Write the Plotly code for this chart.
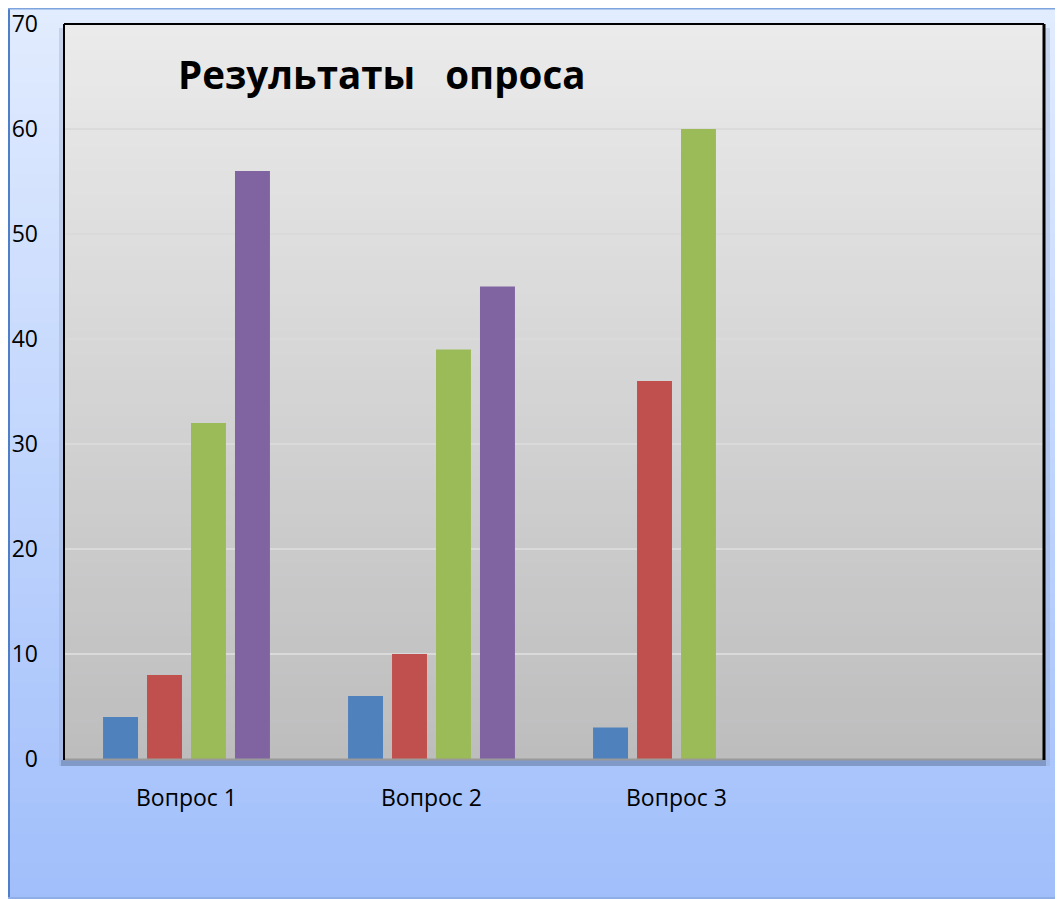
import plotly.graph_objects as go

# ---- data ----
categories = ["Вопрос 1", "Вопрос 2", "Вопрос 3"]
series1 = [4, 6, 3]
series2 = [8, 10, 36]
series3 = [32, 39, 60]
series4 = [56, 45, None]
series_values = [series1, series2, series3, series4]
series_colors = ["#4F81BD", "#C0504D", "#9BBB59", "#8064A2"]
y_ticks = [0, 10, 20, 30, 40, 50, 60, 70]
title_text = "Результаты   опроса"

# ---- geometry (figure pixels; page adds an 8px body margin) ----
W, H = 1063, 899
OX, OY = 8, 8
PL, PR, PT, PB = 56, 1036, 16, 751  # plot area in figure pixels


def px(xs):
    return (xs - OX - PL) / (PR - PL)


def py(ys):
    return (PB - (ys - OY)) / (PB - PT)


def lerp_color(c1, c2, t):
    a = [int(c1[i:i + 2], 16) for i in (1, 3, 5)]
    b = [int(c2[i:i + 2], 16) for i in (1, 3, 5)]
    return "rgb(%d,%d,%d)" % tuple(round(a[k] + (b[k] - a[k]) * t) for k in range(3))


shapes = []
# outer background gradient (screen coords)
N = 60
x0o, x1o, y0o, y1o = 8, 1072, 8, 908
for i in range(N):
    ya = y0o + (y1o - y0o) * i / N
    yb = y0o + (y1o - y0o) * (i + 1) / N + 0.6
    shapes.append(dict(type="rect", xref="paper", yref="paper", layer="below",
                       x0=px(x0o), x1=px(x1o), y0=py(ya), y1=py(yb),
                       line=dict(width=0),
                       fillcolor=lerp_color("#E2ECFE", "#A0BEFB", (i + 0.5) / N)))
# outer frame lines
shapes.append(dict(type="line", xref="paper", yref="paper", layer="below",
                   x0=px(9), x1=px(9), y0=py(8), y1=py(899),
                   line=dict(color="#4F7FC9", width=2)))
shapes.append(dict(type="line", xref="paper", yref="paper", layer="below",
                   x0=px(8), x1=px(1063), y0=py(8.5), y1=py(8.5),
                   line=dict(color="#7FA3DD", width=2)))
shapes.append(dict(type="line", xref="paper", yref="paper", layer="below",
                   x0=px(8), x1=px(1063), y0=py(898), y1=py(898),
                   line=dict(color="#8FADE6", width=2)))
# wall shadows
shapes.append(dict(type="rect", xref="paper", yref="paper", layer="below",
                   x0=px(59), x1=px(64), y0=py(28), y1=py(766),
                   line=dict(width=0), fillcolor="rgba(150,165,195,0.35)"))
shapes.append(dict(type="rect", xref="paper", yref="paper", layer="below",
                   x0=px(1044), x1=px(1050), y0=py(28), y1=py(766),
                   line=dict(width=0), fillcolor="rgba(150,165,200,0.3)"))
# plot area gradient
M = 60
for i in range(M):
    ya = 24 + (759 - 24) * i / M
    yb = min(24 + (759 - 24) * (i + 1) / M + 0.6, 759)
    shapes.append(dict(type="rect", xref="paper", yref="paper", layer="below",
                       x0=0, x1=1, y0=py(ya), y1=py(yb),
                       line=dict(width=0),
                       fillcolor=lerp_color("#EBEBEB", "#BDBDBD", (i + 0.5) / M)))
# floor shadow
shapes.append(dict(type="rect", xref="paper", yref="paper", layer="above",
                   x0=px(61), x1=px(1046), y0=py(760), y1=py(766),
                   line=dict(width=0), fillcolor="#8199C6"))
shapes.append(dict(type="line", xref="paper", yref="paper", layer="above",
                   x0=px(64), x1=px(1044), y0=py(759.5), y1=py(759.5),
                   line=dict(color="#9A9A9A", width=2)))
# plot frame (left, top, right)
shapes.append(dict(type="line", xref="paper", yref="paper", layer="above",
                   x0=0, x1=0, y0=py(760), y1=1, line=dict(color="black", width=2)))
shapes.append(dict(type="line", xref="paper", yref="paper", layer="above",
                   x0=0, x1=1, y0=1, y1=1, line=dict(color="black", width=2)))
shapes.append(dict(type="line", xref="paper", yref="paper", layer="above",
                   x0=1, x1=1, y0=py(760), y1=1, line=dict(color="black", width=3)))

fig = go.Figure()
for vals, col in zip(series_values, series_colors):
    fig.add_trace(go.Bar(x=categories, y=vals, marker=dict(color=col, line=dict(width=0)),
                         showlegend=False))

fig.update_layout(
    width=W, height=H,
    margin=dict(l=PL, r=W - PR, t=PT, b=H - PB, pad=0, autoexpand=False),
    paper_bgcolor="#A3C1FC",
    plot_bgcolor="rgba(0,0,0,0)",
    barmode="group",
    bargap=0.282,
    bargroupgap=0.205,
    showlegend=False,
    shapes=shapes,
    font=dict(family="Open Sans, sans-serif", color="black"),
    xaxis=dict(type="category", categoryorder="array", categoryarray=categories,
               range=[-0.5, 3.5], showgrid=False, zeroline=False, showline=False,
               automargin=False, ticklabeloverflow="allow",
               ticks="", tickfont=dict(size=23, color="black"), ticklabelstandoff=23),
    yaxis=dict(range=[0, 70], tickvals=y_ticks, showgrid=True, gridcolor="#DADADA",
               gridwidth=2, zeroline=False, showline=False, ticks="",
               automargin=False, ticklabeloverflow="allow",
               tickfont=dict(size=23, color="black"), ticklabelstandoff=25),
    annotations=[dict(text="<b>" + title_text + "</b>", xref="paper", yref="paper",
                      x=px(381), y=py(74), xanchor="center", yanchor="middle",
                      showarrow=False, font=dict(size=38.5, color="black",
                                                 family="Open Sans, sans-serif"))],
)

fig.write_html("out.html")
